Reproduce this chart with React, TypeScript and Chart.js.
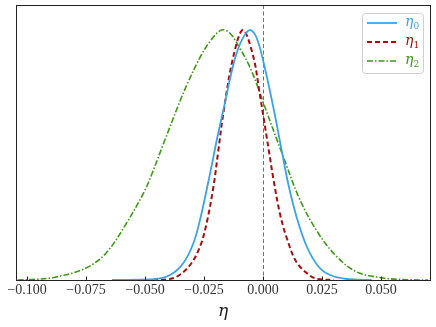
import React, { useEffect, useRef } from "react";
import { Chart, registerables } from "chart.js";

Chart.register(...registerables);

const X_TICKS = [-0.1, -0.075, -0.05, -0.025, 0.0, 0.025, 0.05];
const X_MIN = -0.1047;
const X_MAX = 0.0708;

const ETA0_X = [-0.064, -0.0465, -0.0394, -0.0338, -0.0295, -0.0267, -0.0239, -0.021, -0.0196, -0.0168, -0.0126, -0.0097, -0.0058, -0.003, 0.0, 0.0044, 0.0079, 0.0107, 0.0143, 0.0185, 0.0234, 0.0284, 0.0356, 0.046];
const ETA0_Y = [0, 0.003, 0.02, 0.067, 0.147, 0.24, 0.36, 0.493, 0.56, 0.68, 0.86, 0.945, 1.0, 0.975, 0.88, 0.69, 0.52, 0.385, 0.25, 0.135, 0.055, 0.02, 0.004, 0];

const ETA1_X = [-0.05, -0.0422, -0.0366, -0.0309, -0.0267, -0.0239, -0.021, -0.0189, -0.0168, -0.0126, -0.0085, -0.0041, -0.0013, 0.0, 0.0016, 0.0027, 0.0044, 0.0072, 0.01, 0.0143, 0.02, 0.0233, 0.03];
const ETA1_Y = [0, 0.001, 0.013, 0.06, 0.133, 0.227, 0.373, 0.52, 0.667, 0.893, 1.0, 0.893, 0.74, 0.665, 0.57, 0.505, 0.405, 0.265, 0.17, 0.07, 0.017, 0.004, 0];

const ETA2_X = [-0.104, -0.096, -0.0877, -0.075, -0.0665, -0.058, -0.0508, -0.0479, -0.0422, -0.0352, -0.0323, -0.0267, -0.022, -0.0175, -0.014, -0.0097, -0.0055, -0.0013, 0.0, 0.0086, 0.0157, 0.0234, 0.0314, 0.0398, 0.051, 0.062, 0.07];
const ETA2_Y = [0, 0.003, 0.012, 0.048, 0.108, 0.225, 0.345, 0.405, 0.545, 0.715, 0.78, 0.89, 0.96, 1.0, 0.987, 0.925, 0.85, 0.75, 0.713, 0.493, 0.32, 0.188, 0.092, 0.032, 0.008, 0.001, 0];

const LABELS = ["0", "1", "2"];
const COLORS = ["#3aa3e8", "#a80c0c", "#3d9a12"];

const pts = (xs: number[], ys: number[]) => xs.map((x, i) => ({ x, y: ys[i] }));

const decorPlugin = {
  id: "decor",
  beforeDatasetsDraw(chart: any) {
    const { ctx, chartArea } = chart;
    const xs = chart.scales.x;
    const px = xs.getPixelForValue(0);
    ctx.save();
    ctx.strokeStyle = "#707070";
    ctx.lineWidth = 1;
    ctx.setLineDash([4, 2.5]);
    ctx.beginPath();
    ctx.moveTo(Math.round(px) + 0.5, chartArea.top);
    ctx.lineTo(Math.round(px) + 0.5, chartArea.bottom);
    ctx.stroke();
    ctx.restore();
  },
  afterDatasetsDraw(chart: any) {
    const { ctx, chartArea } = chart;
    const xs = chart.scales.x;
    ctx.save();
    ctx.strokeStyle = "#222";
    ctx.lineWidth = 1;
    ctx.setLineDash([]);
    ctx.strokeRect(
      Math.round(chartArea.left) + 0.5,
      Math.round(chartArea.top) + 0.5,
      Math.round(chartArea.right - chartArea.left),
      Math.round(chartArea.bottom - chartArea.top)
    );
    X_TICKS.forEach((v) => {
      const p = Math.round(xs.getPixelForValue(v)) + 0.5;
      ctx.beginPath();
      ctx.moveTo(p, chartArea.bottom);
      ctx.lineTo(p, chartArea.bottom - 3.5);
      ctx.stroke();
    });
    const bx = 362.5, by = 13.5, bw = 61, bh = 60;
    ctx.fillStyle = "rgba(255,255,255,0.85)";
    ctx.strokeStyle = "#d0d0d0";
    ctx.beginPath();
    ctx.roundRect(bx, by, bw, bh, 3);
    ctx.fill();
    ctx.stroke();
    const dashes = [[], [5, 3], [6, 2, 1.5, 2]];
    const widths = [1.8, 2, 1.6];
    const rows = [23, 42, 61];
    rows.forEach((ry, i) => {
      ctx.strokeStyle = COLORS[i];
      ctx.lineWidth = widths[i];
      ctx.setLineDash(dashes[i]);
      ctx.beginPath();
      ctx.moveTo(367, ry);
      ctx.lineTo(397, ry);
      ctx.stroke();
      ctx.setLineDash([]);
      ctx.fillStyle = COLORS[i];
      ctx.textBaseline = "alphabetic";
      ctx.textAlign = "left";
      ctx.font = "italic 14px 'DejaVu Serif', serif";
      ctx.fillText("\u03b7", 405, ry + 3);
      const w = ctx.measureText("\u03b7").width;
      ctx.font = "9px 'DejaVu Serif', serif";
      ctx.fillText(LABELS[i], 405 + w, ry + 6);
    });
    ctx.restore();
  },
};

export default function App() {
  const ref = useRef<HTMLCanvasElement | null>(null);
  useEffect(() => {
    if (!ref.current) return;
    const common = { pointRadius: 0, fill: false, tension: 0.35, showLine: true };
    const chart = new Chart(ref.current, {
      type: "scatter",
      data: {
        datasets: [
          { ...common, label: "η0", data: pts(ETA0_X, ETA0_Y), borderColor: COLORS[0], borderWidth: 1.8 },
          { ...common, label: "η1", data: pts(ETA1_X, ETA1_Y), borderColor: COLORS[1], borderWidth: 2, borderDash: [5, 3] },
          { ...common, label: "η2", data: pts(ETA2_X, ETA2_Y), borderColor: COLORS[2], borderWidth: 1.6, borderDash: [6, 2, 1.5, 2] },
        ],
      },
      options: {
        animation: false,
        responsive: true,
        maintainAspectRatio: false,
        layout: { padding: { left: 16, right: 6, top: 5, bottom: 0 } },
        plugins: { legend: { display: false }, tooltip: { enabled: false } },
        scales: {
          y: { display: false, min: 0, max: 1.1 },
          x: {
            type: "linear",
            min: X_MIN,
            max: X_MAX,
            border: { display: false },
            grid: { display: false, drawTicks: false },
            afterBuildTicks: (scale: any) => {
              scale.ticks = X_TICKS.map((v) => ({ value: v }));
            },
            afterFit: (scale: any) => {
              scale.height = 47;
            },
            ticks: {
              autoSkip: false,
              maxRotation: 0,
              padding: 2,
              color: "#333",
              font: { family: "'Liberation Serif', serif", size: 14 },
              callback: (v: any) => {
                const n = Number(v);
                const s = Math.abs(n) < 1e-9 ? "0.000" : n.toFixed(3);
                return s.replace("-", "\u2212");
              },
            },
            title: {
              display: true,
              text: "η",
              color: "#222",
              padding: { top: 0, bottom: 5 },
              font: { family: "'DejaVu Serif', serif", size: 17, style: "italic" },
            },
          },
        },
      },
      plugins: [decorPlugin],
    });
    return () => chart.destroy();
  }, []);
  return (
    <div style={{ position: "absolute", left: 0, top: 0, width: 436, height: 327, background: "#fff" }}>
      <canvas ref={ref} />
    </div>
  );
}
